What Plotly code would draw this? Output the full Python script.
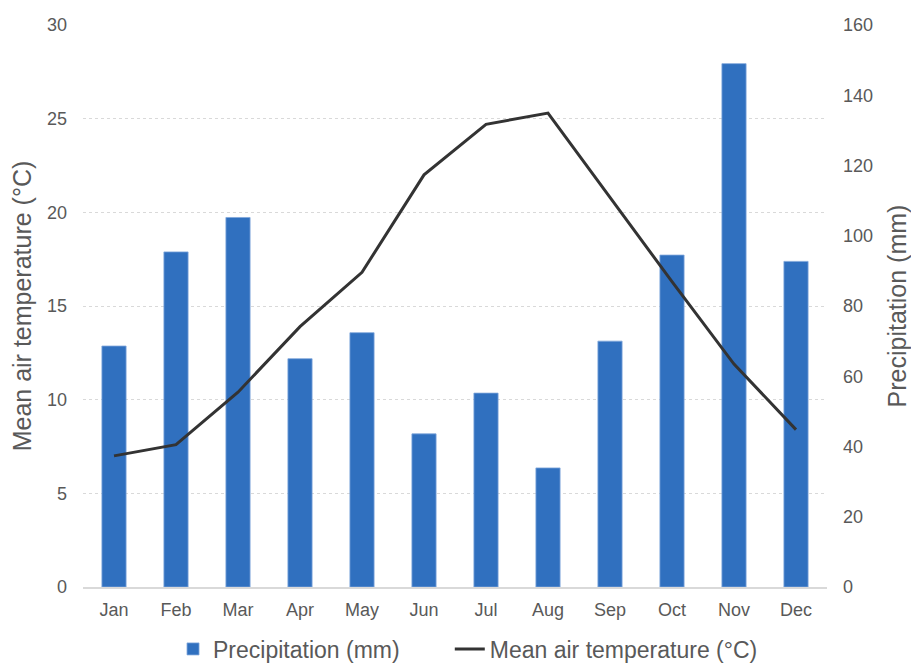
import plotly.graph_objects as go

months = ["Jan", "Feb", "Mar", "Apr", "May", "Jun", "Jul", "Aug", "Sep", "Oct", "Nov", "Dec"]
precipitation_mm = [68.6, 95.4, 105.2, 65.0, 72.4, 43.6, 55.2, 33.9, 70.0, 94.5, 149.0, 92.7]
mean_temp_c = [7.0, 7.6, 10.4, 13.9, 16.8, 22.0, 24.7, 25.3, 20.8, 16.3, 11.9, 8.4]

temp_ticks = [0, 5, 10, 15, 20, 25, 30]
precip_ticks = [0, 20, 40, 60, 80, 100, 120, 140, 160]

FONT = "Liberation Sans, Arial, sans-serif"
GREY = "#595959"

fig = go.Figure()
# Bars on the base (right-hand) axis so the line, on the overlaying axis, is drawn on top
fig.add_trace(go.Bar(
    x=months, y=precipitation_mm, name="Precipitation (mm)",
    marker=dict(color="#3070BF", line=dict(color="#7FA6DA", width=0.8)),
    yaxis="y", legend="legend",
))
fig.add_trace(go.Scatter(
    x=months, y=mean_temp_c, name="Mean air temperature (°C)",
    mode="lines", line=dict(color="#333333", width=3),
    yaxis="y2", legend="legend2",
))

legend_common = dict(
    orientation="h", xanchor="left", y=-0.072, yanchor="top",
    font=dict(size=23, color=GREY), itemwidth=30, bgcolor="rgba(0,0,0,0)",
)

fig.update_layout(
    width=911, height=664,
    margin=dict(l=83, r=84, t=25, b=77, autoexpand=False),
    paper_bgcolor="white", plot_bgcolor="white",
    font=dict(family=FONT, color=GREY, size=18),
    bargap=0.61,
    showlegend=True,
    legend=dict(x=0.121, **legend_common),
    legend2=dict(x=0.493, **legend_common),
    xaxis=dict(
        type="category", range=[-0.5, 11.5],
        showline=True, linecolor="#D9D9D9", linewidth=1.5,
        showgrid=False, ticks="", ticklabelstandoff=6,
        tickfont=dict(size=18, color=GREY), fixedrange=True,
    ),
    yaxis=dict(
        range=[0, 160], tickvals=precip_ticks, side="right",
        showgrid=False, zeroline=False, showline=False, ticks="", ticklabelstandoff=15,
        tickfont=dict(size=18, color=GREY),
        title=dict(text="Precipitation (mm)", font=dict(size=25, color=GREY), standoff=17),
        automargin=False,
    ),
    yaxis2=dict(
        range=[0, 30], tickvals=temp_ticks, side="left", overlaying="y",
        showgrid=True, gridcolor="#D9D9D9", griddash="3px,3px", gridwidth=1,
        zeroline=False, showline=False, ticks="", ticklabelstandoff=15,
        tickfont=dict(size=18, color=GREY),
        title=dict(text="Mean air temperature (°C)", font=dict(size=25, color=GREY), standoff=8),
        automargin=False,
    ),
)

fig.write_html(
    "out.html",
    config={"displayModeBar": False},
    post_script="document.body.style.margin='0';document.body.style.overflow='hidden';",
)
